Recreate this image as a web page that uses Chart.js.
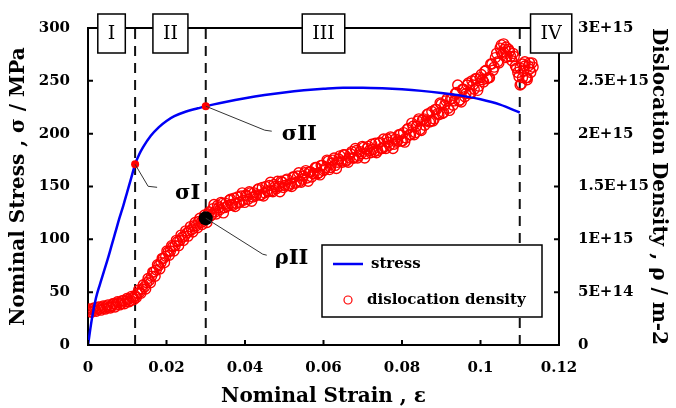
<!DOCTYPE html>
<html lang="en">
<head>
<meta charset="UTF-8">
<title>Stress and dislocation density vs strain</title>
<script src="https://cdn.jsdelivr.net/npm/chart.js"></script>
<style>
  body { margin: 0; background: #fff; }
  #wrap { width: 676px; height: 408px; }
</style>
</head>
<body>
<div id="wrap"><canvas id="chart" width="676" height="408"></canvas></div>
<script>
// stress-strain curve (MPa)
var stressStrain = [0, 0.001, 0.002, 0.003, 0.004, 0.005, 0.006, 0.007, 0.008, 0.009, 0.010, 0.011, 0.012, 0.013, 0.014, 0.016, 0.018, 0.020, 0.022, 0.025, 0.028, 0.030, 0.035, 0.040, 0.045, 0.050, 0.055, 0.060, 0.065, 0.070, 0.075, 0.080, 0.085, 0.090, 0.095, 0.100, 0.105, 0.110];
var stress = [0, 25, 44, 57, 69, 81, 94, 107, 120, 132, 145, 158, 171, 180, 187, 198, 206, 212, 216.5, 221, 224, 226, 230, 233.5, 236.5, 239, 241, 242.5, 243.5, 243.5, 243, 242, 240.5, 238.5, 236, 232.5, 227.5, 220];

// dislocation density, in units of 1E+14 m-2 (first pass of readings)
var densityStrain = [
  0.0000, 0.0006, 0.0012, 0.0018, 0.0024, 0.0030, 0.0036, 0.0042, 0.0048, 0.0054,
  0.0060, 0.0066, 0.0072, 0.0078, 0.0084, 0.0090, 0.0096, 0.0102, 0.0108, 0.0114,
  0.0120, 0.0126, 0.0132, 0.0138, 0.0144, 0.0150, 0.0156, 0.0162, 0.0168, 0.0174,
  0.0180, 0.0186, 0.0192, 0.0198, 0.0204, 0.0210, 0.0216, 0.0222, 0.0228, 0.0234,
  0.0240, 0.0246, 0.0252, 0.0258, 0.0264, 0.0270, 0.0276, 0.0282, 0.0288, 0.0294,
  0.0300, 0.0306, 0.0312, 0.0318, 0.0324, 0.0330, 0.0336, 0.0342, 0.0348, 0.0354,
  0.0360, 0.0366, 0.0372, 0.0378, 0.0384, 0.0390, 0.0396, 0.0402, 0.0408, 0.0414,
  0.0420, 0.0426, 0.0432, 0.0438, 0.0444, 0.0450, 0.0456, 0.0462, 0.0468, 0.0474,
  0.0480, 0.0486, 0.0492, 0.0498, 0.0504, 0.0510, 0.0516, 0.0522, 0.0528, 0.0534,
  0.0540, 0.0546, 0.0552, 0.0558, 0.0564, 0.0570, 0.0576, 0.0582, 0.0588, 0.0594,
  0.0600, 0.0606, 0.0612, 0.0618, 0.0624, 0.0630, 0.0636, 0.0642, 0.0648, 0.0654,
  0.0660, 0.0666, 0.0672, 0.0678, 0.0684, 0.0690, 0.0696, 0.0702, 0.0708, 0.0714,
  0.0720, 0.0726, 0.0732, 0.0738, 0.0744, 0.0750, 0.0756, 0.0762, 0.0768, 0.0774,
  0.0780, 0.0786, 0.0792, 0.0798, 0.0804, 0.0810, 0.0816, 0.0822, 0.0828, 0.0834,
  0.0840, 0.0846, 0.0852, 0.0858, 0.0864, 0.0870, 0.0876, 0.0882, 0.0888, 0.0894,
  0.0900, 0.0906, 0.0912, 0.0918, 0.0924, 0.0930, 0.0936, 0.0942, 0.0948, 0.0954,
  0.0960, 0.0966, 0.0972, 0.0978, 0.0984, 0.0990, 0.0996, 0.1002, 0.1008, 0.1014,
  0.1020, 0.1026, 0.1032, 0.1038, 0.1044, 0.1050, 0.1053, 0.1056, 0.1059, 0.1062,
  0.1065, 0.1068, 0.1074, 0.1080, 0.1086, 0.1092, 0.1098, 0.1101, 0.1104, 0.1107,
  0.1110, 0.1113, 0.1116, 0.1119, 0.1122, 0.1125, 0.1128, 0.1134
];
var densityE14 = [
  3.3, 3.2, 3.4, 3.3, 3.5, 3.4, 3.6, 3.5, 3.7, 3.6,
  3.7, 3.9, 3.8, 4.0, 3.9, 4.2, 4.1, 4.3, 4.2, 4.5,
  4.6, 4.9, 5.0, 5.3, 5.5, 5.9, 6.1, 6.5, 6.9, 7.1,
  7.5, 7.8, 8.2, 8.4, 8.8, 8.9, 9.3, 9.4, 9.8, 9.9,
  10.2, 10.3, 10.6, 10.8, 10.9, 11.3, 11.3, 11.7, 11.6, 11.9,
  12.1, 12.4, 12.2, 12.9, 12.6, 13.2, 12.8, 13.4, 13.0, 13.1,
  13.7, 13.3, 13.9, 13.4, 13.5, 14.1, 13.7, 14.2, 13.8, 14.4,
  14.0, 14.1, 14.7, 14.2, 14.9, 14.4, 14.6, 15.1, 14.6, 15.2,
  14.8, 15.0, 15.5, 14.9, 15.6, 15.1, 15.3, 15.9, 15.3, 16.0,
  15.5, 15.7, 16.3, 15.8, 16.4, 15.9, 16.2, 16.8, 16.3, 17.0,
  16.5, 16.8, 17.4, 16.8, 17.5, 17.0, 17.3, 17.9, 17.3, 18.0,
  17.5, 17.7, 18.3, 17.7, 18.4, 17.9, 18.1, 18.7, 18.1, 18.8,
  18.2, 18.5, 19.1, 18.4, 19.2, 18.6, 18.8, 19.5, 18.9, 19.6,
  19.0, 19.2, 19.9, 19.3, 20.1, 19.6, 20.5, 19.9, 20.7, 20.1,
  21.2, 20.4, 21.3, 20.8, 21.8, 21.1, 22.1, 21.4, 22.3, 21.8,
  22.8, 22.0, 23.1, 22.4, 23.3, 22.7, 23.8, 24.6, 23.2, 24.2,
  23.5, 24.6, 23.8, 25.0, 24.2, 25.2, 24.5, 25.6, 24.9, 26.0,
  25.3, 26.6, 26.0, 27.2, 26.8, 28.1, 28.4, 27.5, 27.7, 28.0,
  28.2, 27.3, 27.8, 26.9, 27.3, 26.2, 25.4, 24.6, 24.7, 26.6,
  25.9, 26.8, 25.3, 25.1, 26.4, 26.7, 25.8, 26.3
];

// second pass of readings, in between the first ones
var densityStrainB = [
  0.0003, 0.0009, 0.0015, 0.0021, 0.0027, 0.0033, 0.0039, 0.0045, 0.0051, 0.0057,
  0.0063, 0.0069, 0.0075, 0.0081, 0.0087, 0.0093, 0.0099, 0.0105, 0.0111, 0.0117,
  0.0123, 0.0129, 0.0135, 0.0141, 0.0147, 0.0153, 0.0159, 0.0165, 0.0171, 0.0177,
  0.0183, 0.0189, 0.0195, 0.0201, 0.0207, 0.0213, 0.0219, 0.0225, 0.0231, 0.0237,
  0.0243, 0.0249, 0.0255, 0.0261, 0.0267, 0.0273, 0.0279, 0.0285, 0.0291, 0.0297,
  0.0303, 0.0309, 0.0315, 0.0321, 0.0327, 0.0333, 0.0339, 0.0345, 0.0351, 0.0357,
  0.0363, 0.0369, 0.0375, 0.0381, 0.0387, 0.0393, 0.0399, 0.0405, 0.0411, 0.0417,
  0.0423, 0.0429, 0.0435, 0.0441, 0.0447, 0.0453, 0.0459, 0.0465, 0.0471, 0.0477,
  0.0483, 0.0489, 0.0495, 0.0501, 0.0507, 0.0513, 0.0519, 0.0525, 0.0531, 0.0537,
  0.0543, 0.0549, 0.0555, 0.0561, 0.0567, 0.0573, 0.0579, 0.0585, 0.0591, 0.0597,
  0.0603, 0.0609, 0.0615, 0.0621, 0.0627, 0.0633, 0.0639, 0.0645, 0.0651, 0.0657,
  0.0663, 0.0669, 0.0675, 0.0681, 0.0687, 0.0693, 0.0699, 0.0705, 0.0711, 0.0717,
  0.0723, 0.0729, 0.0735, 0.0741, 0.0747, 0.0753, 0.0759, 0.0765, 0.0771, 0.0777,
  0.0783, 0.0789, 0.0795, 0.0801,
  0.0807, 0.0813, 0.0819, 0.0825, 0.0831, 0.0837, 0.0843, 0.0849, 0.0855, 0.0861,
  0.0867, 0.0873, 0.0879, 0.0885, 0.0891, 0.0897, 0.0903, 0.0909, 0.0915, 0.0921,
  0.0927, 0.0933, 0.0939, 0.0945, 0.0951, 0.0957, 0.0963, 0.0969, 0.0975, 0.0981,
  0.0987, 0.0993, 0.0999, 0.1005, 0.1011, 0.1017, 0.1023, 0.1029, 0.1035, 0.1041,
  0.1047, 0.1053, 0.1059, 0.1065, 0.1071, 0.1077, 0.1083, 0.1089, 0.1095, 0.1101,
  0.1107, 0.1113, 0.1119, 0.1125, 0.1131
];
var densityE14B = [
  3.4, 3.1, 3.5, 3.2, 3.6, 3.3, 3.7, 3.4, 3.8, 3.5,
  3.9, 3.6, 4.1, 3.8, 4.2, 3.9, 4.4, 4.1, 4.6, 4.3,
  4.5, 5.2, 4.9, 5.7, 5.3, 6.3, 5.9, 6.9, 6.5, 7.6,
  7.2, 8.2, 7.8, 8.9, 8.5, 9.4, 8.9, 9.9, 9.4, 10.4,
  9.9, 10.8, 10.3, 11.2, 10.7, 11.6, 11.1, 12.0, 11.4, 12.3,
  11.6, 12.6, 12.3, 13.3, 12.4, 13.0, 13.5, 12.5, 13.4, 13.2,
  13.8, 13.2, 13.1, 14.0, 13.5, 14.4, 13.5, 14.1, 14.5, 13.6,
  14.4, 14.2, 14.8, 14.2, 14.1, 15.0, 14.5, 15.4, 14.5, 15.0,
  15.5, 14.5, 15.4, 15.1, 15.7, 15.1, 15.0, 15.9, 15.4, 16.3,
  15.4, 16.0, 16.5, 15.5, 16.4, 16.2, 16.8, 16.2, 16.1, 17.0,
  16.6, 17.5, 16.6, 17.2, 17.7, 16.7, 17.6, 17.4, 18.0, 17.4,
  17.3, 18.1, 17.7, 18.6, 17.7, 18.3, 18.8, 17.7, 18.6, 18.4,
  19.0, 18.3, 18.2, 19.1, 18.6, 19.5, 18.6, 19.2, 19.7, 18.6,
  19.5, 19.3, 19.9, 19.3,
  19.2, 20.4, 19.9, 21.0, 19.9, 20.7, 21.4, 20.3, 21.4, 21.2,
  21.9, 21.2, 21.2, 22.3, 21.9, 22.9, 21.9, 22.7, 23.3, 22.2,
  23.3, 23.1, 23.9, 23.1, 23.0, 24.2, 23.8, 24.8, 23.8, 24.6,
  25.2, 24.1, 25.3, 25.1, 25.9, 25.2, 25.3, 26.6, 26.3, 27.6,
  26.7, 27.7, 28.5, 27.2, 28.0, 27.3, 27.6, 26.4, 25.8, 26.2,
  25.3, 26.4, 25.3, 26.1, 26.7
];

// marked points and stage boundaries
var markerStrain = [0.012, 0.030];
var markerStress = [171, 226];
var rhoIIStrain = 0.030;
var rhoIIE14 = 12.0;
var markerLabels = ['σI', 'σII', 'ρII'];
var boundaryStrain = [0.012, 0.030, 0.110];
var stageLabels = ['I', 'II', 'III', 'IV'];
var stageStrain = [0.006, 0.021, 0.060, 0.118];

// tick labels
var xTickLabels = ['0', '0.02', '0.04', '0.06', '0.08', '0.1', '0.12'];
var y2TickLabels = ['0', '5E+14', '1E+15', '1.5E+15', '2E+15', '2.5E+15', '3E+15'];
var legendLabels = ['stress', 'dislocation density'];

var SERIF = '"DejaVu Serif", "Liberation Serif", serif';
Chart.defaults.font.family = SERIF;
Chart.defaults.color = '#000';

var stressPts = stressStrain.map(function(x, i) { return {x: x, y: stress[i]}; });
var densityPts = densityStrain.map(function(x, i) { return {x: x, y: densityE14[i] * 1e14}; })
  .concat(densityStrainB.map(function(x, i) { return {x: x, y: densityE14B[i] * 1e14}; }));

var datasets = [
  {
    label: 'markers',
    data: markerStrain.map(function(x, i) { return {x: x, y: markerStress[i]}; }),
    yAxisID: 'y', showLine: false,
    pointRadius: 4, pointBackgroundColor: '#ff0000', pointBorderColor: '#ff0000', pointBorderWidth: 0
  },
  {
    label: 'rhoII',
    data: [{x: rhoIIStrain, y: rhoIIE14 * 1e14}],
    yAxisID: 'y2', showLine: false,
    pointRadius: 7, pointBackgroundColor: '#000', pointBorderColor: '#000', pointBorderWidth: 0
  },
  {
    label: legendLabels[0],
    type: 'line',
    data: stressPts,
    yAxisID: 'y',
    borderColor: 'rgb(0,0,245)', borderWidth: 2.5,
    pointRadius: 0, fill: false,
    cubicInterpolationMode: 'monotone'
  },
  {
    label: legendLabels[1],
    data: densityPts,
    yAxisID: 'y2', showLine: false,
    pointStyle: 'circle', pointRadius: 5,
    pointBorderColor: 'rgb(255,0,0)', pointBackgroundColor: 'rgba(0,0,0,0)', pointBorderWidth: 1.4
  }
];
// dashed boundaries between the stages
boundaryStrain.forEach(function(b) {
  datasets.push({
    label: 'boundary',
    type: 'line',
    data: [{x: b, y: 0}, {x: b, y: 300}],
    yAxisID: 'y',
    borderColor: '#111', borderWidth: 2, borderDash: [10, 7],
    pointRadius: 0, fill: false
  });
});

var overlay = {
  id: 'overlay',
  afterDraw: function(chart) {
    var ctx = chart.ctx;
    var a = chart.chartArea;
    var xs = chart.scales.x, ys = chart.scales.y, y2 = chart.scales.y2;
    ctx.save();

    // top frame and inward ticks
    ctx.strokeStyle = '#000';
    ctx.lineWidth = 2;
    ctx.beginPath();
    ctx.moveTo(a.left, a.top);
    ctx.lineTo(a.right, a.top);
    xs.ticks.forEach(function(t) {
      var px = xs.getPixelForValue(t.value);
      ctx.moveTo(px, a.bottom); ctx.lineTo(px, a.bottom - 5);
    });
    ys.ticks.forEach(function(t) {
      var py = ys.getPixelForValue(t.value);
      ctx.moveTo(a.left, py); ctx.lineTo(a.left + 5, py);
    });
    y2.ticks.forEach(function(t) {
      var py = y2.getPixelForValue(t.value);
      ctx.moveTo(a.right, py); ctx.lineTo(a.right - 5, py);
    });
    ctx.stroke();

    // stage boxes
    ctx.font = '19px ' + SERIF;
    ctx.textAlign = 'center';
    ctx.textBaseline = 'middle';
    stageLabels.forEach(function(lbl, i) {
      var cx = xs.getPixelForValue(stageStrain[i]);
      var w = ctx.measureText(lbl).width + 20;
      var top = a.top - 14, h = 39;
      ctx.fillStyle = '#fff';
      ctx.fillRect(cx - w / 2, top, w, h);
      ctx.lineWidth = 1.5;
      ctx.strokeRect(cx - w / 2, top, w, h);
      ctx.fillStyle = '#000';
      ctx.fillText(lbl, cx, top + h / 2 + 1);
    });

    // annotations with leader lines
    var notes = [
      {px: xs.getPixelForValue(markerStrain[0]), py: ys.getPixelForValue(markerStress[0]), bend: [13, 22], end: [22, 23], tx: 40, ty: 35},
      {px: xs.getPixelForValue(markerStrain[1]), py: ys.getPixelForValue(markerStress[1]), bend: [59, 24], end: [66, 25], tx: 76, ty: 34},
      {px: xs.getPixelForValue(rhoIIStrain), py: y2.getPixelForValue(rhoIIE14 * 1e14), bend: [57, 36], end: [61, 37], tx: 69, ty: 46}
    ];
    notes.forEach(function(n, i) {
      ctx.strokeStyle = '#333';
      ctx.lineWidth = 1;
      ctx.beginPath();
      ctx.moveTo(n.px, n.py);
      ctx.lineTo(n.px + n.bend[0], n.py + n.bend[1]);
      ctx.lineTo(n.px + n.end[0], n.py + n.end[1]);
      ctx.stroke();
      ctx.fillStyle = '#000';
      ctx.font = 'bold 21px ' + SERIF;
      ctx.textAlign = 'left';
      ctx.textBaseline = 'alphabetic';
      ctx.fillText(markerLabels[i], n.px + n.tx, n.py + n.ty);
    });

    // legend box
    var lx = a.left + 234, ly = a.top + 217, lw = 220, lh = 72;
    ctx.fillStyle = '#fff';
    ctx.fillRect(lx, ly, lw, lh);
    ctx.strokeStyle = '#000';
    ctx.lineWidth = 1.5;
    ctx.strokeRect(lx, ly, lw, lh);
    ctx.strokeStyle = 'rgb(0,0,245)';
    ctx.lineWidth = 2.5;
    ctx.beginPath();
    ctx.moveTo(lx + 11, ly + 19);
    ctx.lineTo(lx + 41, ly + 19);
    ctx.stroke();
    ctx.strokeStyle = 'rgb(255,0,0)';
    ctx.lineWidth = 1.2;
    ctx.beginPath();
    ctx.arc(lx + 26, ly + 55, 4, 0, Math.PI * 2);
    ctx.stroke();
    ctx.fillStyle = '#000';
    ctx.font = 'bold 15px ' + SERIF;
    ctx.textAlign = 'left';
    ctx.textBaseline = 'middle';
    ctx.fillText(legendLabels[0], lx + 49, ly + 19);
    ctx.fillText(legendLabels[1], lx + 45, ly + 55);

    ctx.restore();
  }
};

var tickFont = {family: SERIF, size: 15, weight: 'bold'};
var titleFont = {family: SERIF, size: 20, weight: 'bold', lineHeight: 1};

new Chart(document.getElementById('chart').getContext('2d'), {
  type: 'scatter',
  data: {datasets: datasets},
  options: {
    responsive: false,
    animation: false,
    devicePixelRatio: 1,
    layout: {padding: {top: 25, left: 0, right: 0, bottom: 0}},
    plugins: {legend: {display: false}, tooltip: {enabled: false}},
    scales: {
      x: {
        type: 'linear', position: 'bottom', min: 0, max: 0.12,
        afterFit: function(s) { s.height = 63; },
        grid: {display: false, drawTicks: false},
        border: {display: true, color: '#000', width: 2},
        ticks: {
          stepSize: 0.02, padding: 14, font: tickFont, color: '#000',
          callback: function(v, i) { return xTickLabels[i]; }
        },
        title: {display: true, text: 'Nominal Strain , ε', font: titleFont, color: '#000', padding: {top: 0, bottom: 1}}
      },
      y: {
        type: 'linear', position: 'left', min: 0, max: 300,
        afterFit: function(s) { s.width = 88; },
        grid: {display: false, drawTicks: false},
        border: {display: true, color: '#000', width: 2},
        ticks: {stepSize: 50, padding: 18, font: tickFont, color: '#000'},
        title: {display: true, text: 'Nominal Stress , σ / MPa', font: titleFont, color: '#000', padding: {top: 9, bottom: 0}}
      },
      y2: {
        type: 'linear', position: 'right', min: 0, max: 3e15,
        afterFit: function(s) { s.width = 117; },
        grid: {display: false, drawTicks: false},
        border: {display: true, color: '#000', width: 2},
        ticks: {
          stepSize: 5e14, padding: 19, font: tickFont, color: '#000',
          callback: function(v, i) { return y2TickLabels[i]; }
        },
        title: {display: true, text: 'Dislocation Density , ρ / m-2', font: titleFont, color: '#000', padding: {top: 8, bottom: 0}}
      }
    }
  },
  plugins: [overlay]
});
</script>
</body>
</html>
